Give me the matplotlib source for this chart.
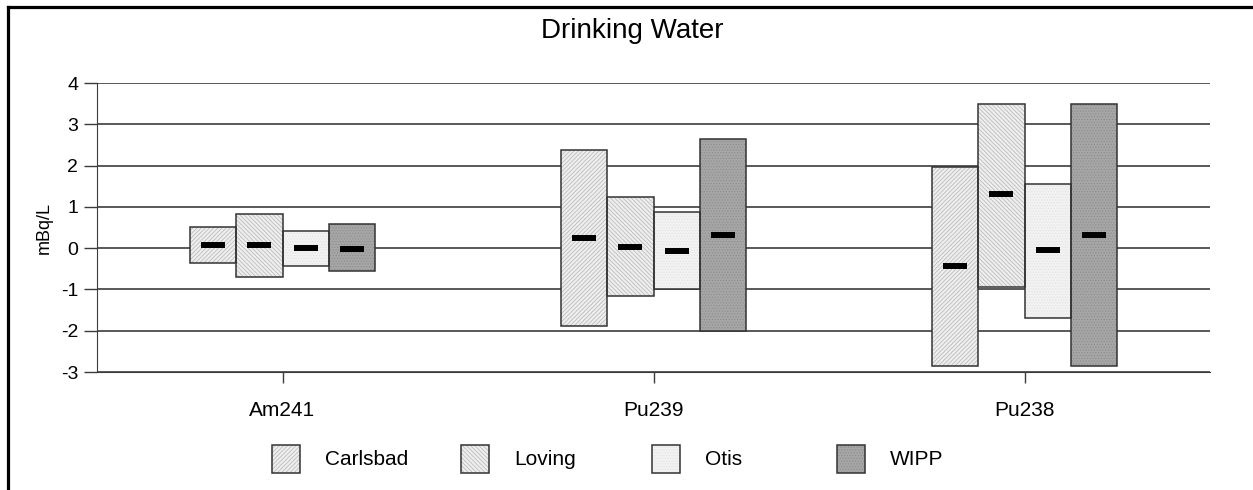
import numpy as np
import matplotlib
matplotlib.use("Agg")
import matplotlib.pyplot as plt
from matplotlib.patches import Rectangle
from matplotlib.lines import Line2D

plt.rcParams['font.family'] = ['Liberation Sans', 'DejaVu Sans']
plt.rcParams['axes.unicode_minus'] = False
plt.rcParams['hatch.linewidth'] = 0.5

# data (mBq/L)
nuclides = ["Am241", "Pu239", "Pu238"]
sites = ["Carlsbad", "Loving", "Otis", "WIPP"]
lows = {
    "Carlsbad": [-0.36, -1.88, -2.85],
    "Loving":   [-0.70, -1.16, -0.94],
    "Otis":     [-0.43, -0.99, -1.69],
    "WIPP":     [-0.55, -2.00, -2.85],
}
highs = {
    "Carlsbad": [0.51, 2.38, 1.97],
    "Loving":   [0.82, 1.24, 3.49],
    "Otis":     [0.42, 0.88, 1.55],
    "WIPP":     [0.58, 2.64, 3.49],
}
means = {
    "Carlsbad": [0.08, 0.25, -0.43],
    "Loving":   [0.07, 0.03, 1.31],
    "Otis":     [0.00, -0.07, -0.04],
    "WIPP":     [-0.02, 0.32, 0.32],
}

# fill, hatch colour, hatch pattern
styles = {
    "Carlsbad": ("#eeeeee", "#b4b4b4", "////////"),
    "Loving":   ("#eeeeee", "#b4b4b4", "\\\\\\\\\\\\\\\\"),
    "Otis":     ("#f2f2f2", "#e2e2e2", "......"),
    "WIPP":     ("#a6a6a6", "#8c8c8c", "......"),
}

W, H = 1253, 490
fig = plt.figure(figsize=(W / 100, H / 100), dpi=100)
ax = fig.add_axes([97 / W, 1 - 372 / H, (1210 - 97) / W, (372 - 83) / H])

x = np.arange(len(nuclides))
w = 0.125
for i, s in enumerate(sites):
    fc, hc, hp = styles[s]
    lo = np.array(lows[s])
    hi = np.array(highs[s])
    xs = x + (i - 1.5) * w
    ax.bar(xs, hi - lo, bottom=lo, width=w, facecolor=fc, edgecolor=hc, hatch=hp,
           linewidth=0, zorder=2)
    ax.bar(xs, hi - lo, bottom=lo, width=w, fill=False, edgecolor="#333333",
           linewidth=1.1, zorder=2.5)
    ax.plot(xs, means[s], ls="none", marker="_", ms=17.5, mew=4.3, color="black", zorder=3)

ax.set_xlim(-0.5, 2.5)
ax.set_ylim(-3, 4)
ax.set_yticks(range(-3, 5))
ax.set_xticks(x)
ax.set_xticklabels(nuclides)
ax.yaxis.grid(True, color="#3c3c3c", linewidth=1.2, zorder=0)
ax.set_axisbelow(True)
for sp in ["top", "right"]:
    ax.spines[sp].set_visible(False)
for sp in ["left", "bottom"]:
    ax.spines[sp].set_color("#3c3c3c")
ax.tick_params(axis="y", direction="out", length=9.5, width=1, color="#3c3c3c", labelsize=14, pad=4)
ax.tick_params(axis="x", direction="out", length=8, width=1, color="#3c3c3c", labelsize=15, pad=13)
ax.set_ylabel("mBq/L", fontsize=13, labelpad=6)

fig.text(632 / W, 1 - 38 / H, "Drinking Water", ha="center", va="baseline", fontsize=20)

# legend, drawn by hand to match the wide even spacing
leg_x = [272, 461, 652, 837]
for s, lx in zip(sites, leg_x):
    fc, hc, hp = styles[s]
    fig.add_artist(Rectangle((lx / W, 1 - 473 / H), 28 / W, 28 / H, transform=fig.transFigure,
                             facecolor=fc, edgecolor=hc, hatch=hp, linewidth=0))
    fig.add_artist(Rectangle((lx / W, 1 - 473 / H), 28 / W, 28 / H, transform=fig.transFigure,
                             fill=False, edgecolor="#333333", linewidth=1.1))
    fig.text((lx + 53) / W, 1 - 459 / H, s, ha="left", va="center", fontsize=15)

# outer frame (top and left edges visible)
fig.add_artist(Line2D([7.5 / W, 7.5 / W], [0, 1 - 7 / H], transform=fig.transFigure, color="black", lw=2.3))
fig.add_artist(Line2D([7.5 / W, 1], [1 - 7 / H, 1 - 7 / H], transform=fig.transFigure, color="black", lw=2.3))

fig.savefig("out.png", dpi=100)
